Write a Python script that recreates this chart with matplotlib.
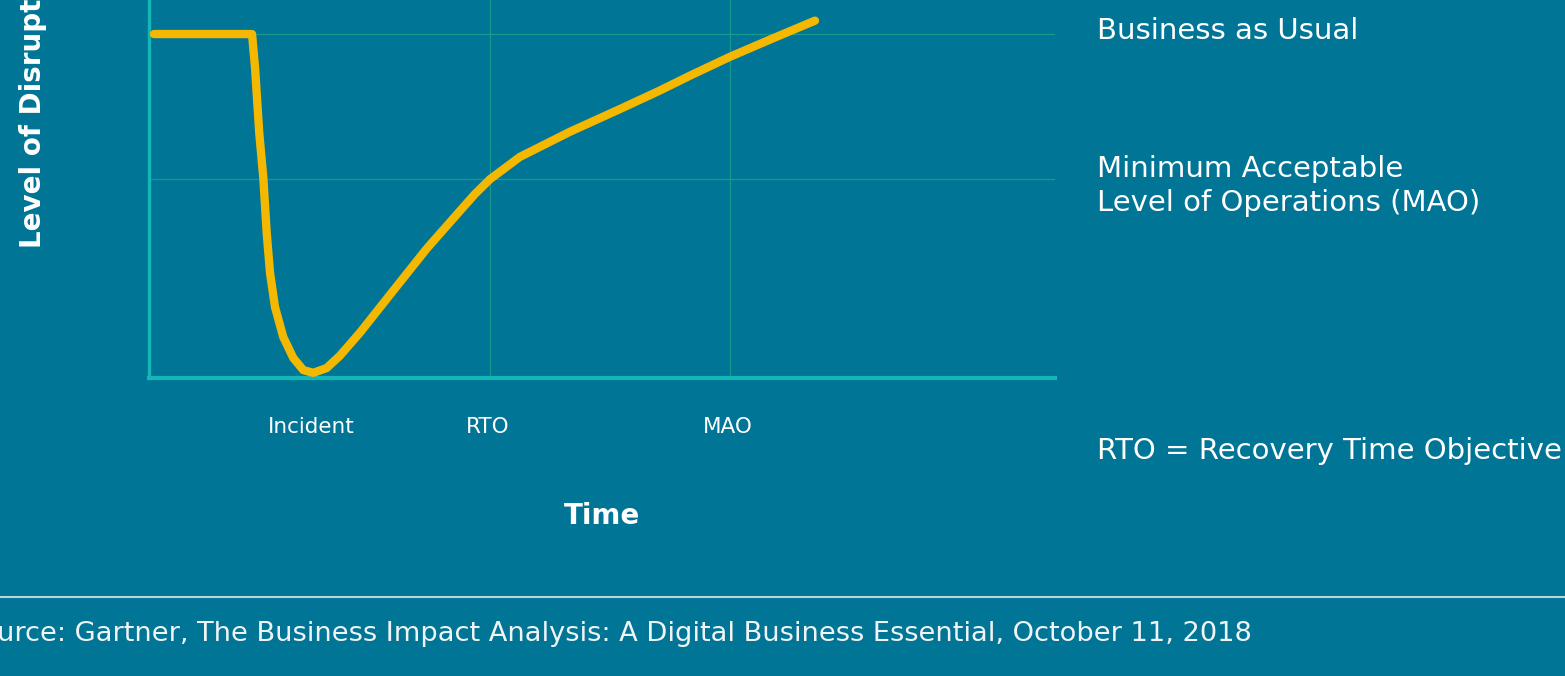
import numpy as np
import matplotlib
matplotlib.use("Agg")
import matplotlib.pyplot as plt
from matplotlib.lines import Line2D

plt.rcParams['font.family'] = ['DejaVu Sans']

bg = '#007596'
axis_c = '#14b6b8'
grid_c = '#18998d'
curve_c = '#f4b800'

# operational level over time (0..100 scale on x, BAU = 100)
time_pts = [0.55, 11.37, 11.70, 12.17, 12.62, 12.99, 13.36, 13.91, 14.82, 15.93,
            17.03, 18.13, 19.61, 21.08, 23.29, 26.96, 30.65, 34.33, 35.98, 37.64,
            40.95, 46.47, 51.99, 56.40, 59.71, 64.13, 68.91, 73.51]
level_pts = [100.0, 100.0, 90.4, 71.2, 58.1, 42.2, 30.5, 20.6, 11.9, 5.8,
             2.3, 1.5, 2.9, 6.5, 13.2, 25.4, 37.6, 48.6, 53.5, 57.8,
             64.3, 71.6, 78.2, 83.6, 87.9, 93.4, 98.8, 103.9]

bau_level = 100.0
mao_level = 57.8
tick_pos = [17.9, 37.4, 63.9]
tick_labels = ['Incident', 'RTO', 'MAO']
grid_x = [37.6, 64.1]

W, H = 1565, 676
fig = plt.figure(figsize=(W / 100, H / 100), dpi=100, facecolor=bg)
ax = fig.add_axes([149 / W, 1 - 378 / H, 906 / W, 378 / H], facecolor=bg)

ax.plot(time_pts, level_pts, color=curve_c, lw=6, solid_capstyle='round',
        solid_joinstyle='round', zorder=4, clip_on=False)

for yv in [bau_level, mao_level]:
    ax.axhline(yv, color=grid_c, lw=0.9, zorder=1)
for xv in grid_x:
    ax.axvline(xv, color=grid_c, lw=0.9, zorder=1)

ax.set_xlim(0, 100)
ax.set_ylim(0, 109.9)
for s in ['top', 'right']:
    ax.spines[s].set_visible(False)
ax.spines['left'].set_color(axis_c)
ax.spines['left'].set_linewidth(2.4)
ax.spines['bottom'].set_color(axis_c)
ax.spines['bottom'].set_linewidth(3)
ax.set_yticks([])
ax.set_xticks(tick_pos)
ax.set_xticklabels(tick_labels)
ax.tick_params(axis='x', length=0, pad=28, labelsize=15.5, labelcolor='white')

fig.text(602 / W, 1 - 516 / H, 'Time', color='white', fontsize=20,
         fontweight='bold', ha='center', va='center')
fig.text(33 / W, 1 - 248 / H, 'Level of Disruption', color='white', fontsize=20,
         fontweight='bold', rotation=90, ha='center', va='bottom')

fig.text(1097 / W, 1 - 31 / H, 'Business as Usual', color='white', fontsize=21,
         ha='left', va='center')
fig.text(1097 / W, 1 - 186 / H, 'Minimum Acceptable\nLevel of Operations (MAO)',
         color='white', fontsize=21, ha='left', va='center', linespacing=1.24)
fig.text(1097 / W, 1 - 451 / H, 'RTO = Recovery Time Objective', color='white',
         fontsize=21, ha='left', va='center')

fig.add_artist(Line2D([0, 1], [1 - 597 / H, 1 - 597 / H], color='#c0d4dc', lw=1.5))
fig.text(1252 / W, 1 - 634 / H,
         'Source: Gartner, The Business Impact Analysis: A Digital Business Essential, October 11, 2018',
         color='#f0f4f5', fontsize=19.6, ha='right', va='center')

fig.savefig('out.png', dpi=100, facecolor=bg)
